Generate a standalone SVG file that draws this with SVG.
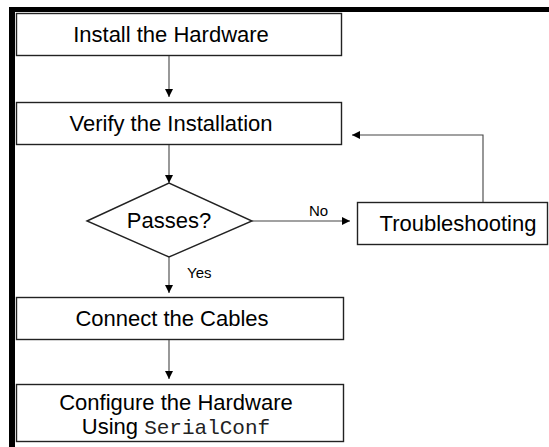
<svg xmlns="http://www.w3.org/2000/svg" width="549" height="447" viewBox="0 0 549 447">
<defs>
<style>
.box{fill:#fff;stroke:#222;stroke-width:1.4}
.t{font-family:"Liberation Sans",Arial,sans-serif;font-size:22px;fill:#000;text-anchor:middle}
.m{font-family:"Liberation Mono","Courier New",monospace;font-size:21px;fill:#222}
.lbl{font-family:"Liberation Sans",Arial,sans-serif;font-size:15px;fill:#000}
.c{fill:none;stroke:#444;stroke-width:1.1}
</style>
<marker id="ah" markerWidth="8" markerHeight="8" refX="8" refY="4" orient="auto" markerUnits="userSpaceOnUse">
<path d="M0,0 L8,4 L0,8 Z" fill="#000"/>
</marker>
</defs>
<rect x="0" y="0" width="549" height="447" fill="#fff"/>
<g id="frame">
<rect x="9" y="7" width="540" height="5" fill="#000"/>
<rect x="9" y="7" width="6" height="440" fill="#000"/>
</g>
<g id="install">
<rect class="box" x="16.5" y="13.5" width="325" height="42"/>
<text class="t" x="171" y="42">Install the Hardware</text>
</g>
<g id="verify">
<rect class="box" x="16.5" y="102.5" width="325" height="42"/>
<text class="t" x="171" y="131">Verify the Installation</text>
</g>
<g id="passes">
<polygon class="box" points="87,221 169,183 252,221 169,257"/>
<text class="t" x="169" y="228">Passes?</text>
</g>
<g id="troubleshooting">
<rect class="box" x="357.5" y="202.5" width="190" height="42"/>
<text class="t" x="458" y="231">Troubleshooting</text>
</g>
<g id="connect">
<rect class="box" x="16.5" y="297.5" width="327" height="42"/>
<text class="t" x="172" y="326">Connect the Cables</text>
</g>
<g id="configure">
<rect class="box" x="16.5" y="384.5" width="327" height="57"/>
<text class="t" x="176" y="410">Configure the Hardware</text>
<text class="t" x="176" y="434">Using <tspan class="m">SerialConf</tspan></text>
</g>
<g id="connectors">
<line class="c" x1="169" y1="56" x2="169" y2="97" marker-end="url(#ah)"/>
<line class="c" x1="169" y1="145" x2="169" y2="183" marker-end="url(#ah)"/>
<line class="c" x1="252" y1="221" x2="350" y2="221" marker-end="url(#ah)"/>
<polyline class="c" points="483,202 483,135 352,135" marker-end="url(#ah)"/>
<line class="c" x1="169" y1="257" x2="169" y2="293" marker-end="url(#ah)"/>
<line class="c" x1="169" y1="340" x2="169" y2="379" marker-end="url(#ah)"/>
<text class="lbl" x="309" y="216">No</text>
<text class="lbl" x="187" y="278">Yes</text>
</g>
</svg>
